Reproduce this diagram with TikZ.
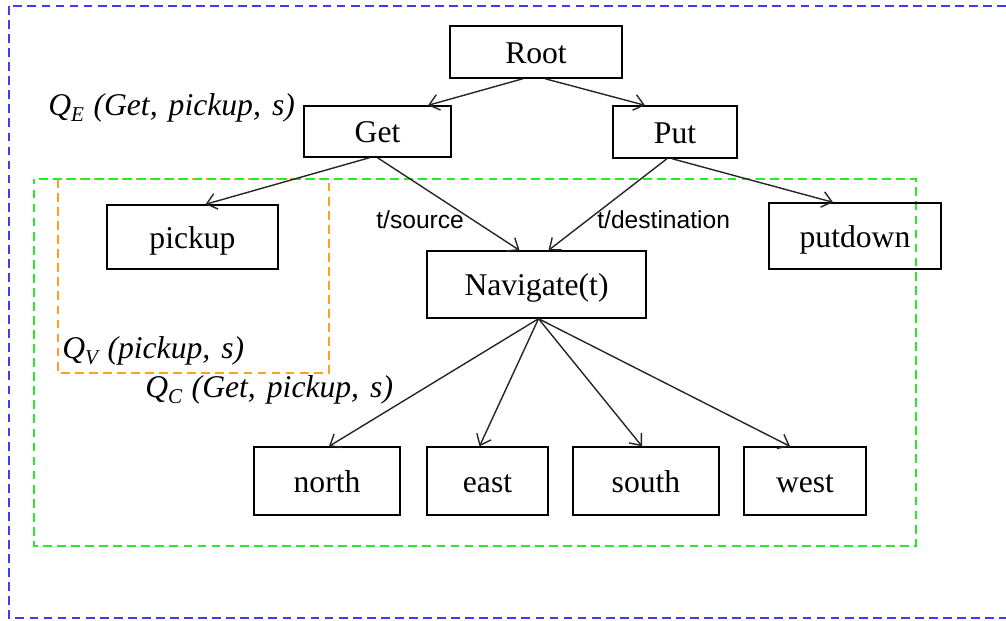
\documentclass[tikz,border=0pt]{standalone}
\usepackage{fontspec}
\setmainfont{Liberation Serif}
\newfontfamily\labelsans{Liberation Sans}
\usetikzlibrary{arrows.meta,calc}
\definecolor{framebluec}{RGB}{60,60,240}
\definecolor{framegreenc}{RGB}{40,235,40}
\definecolor{frameorangec}{RGB}{255,160,30}
% subscript set low, as in the value labels
\newcommand{\lowsub}[1]{\raisebox{-0.45ex}{\fontsize{12}{12}\selectfont #1}}
\begin{document}
\begin{tikzpicture}[x=0.02cm,y=-0.02cm,
  box/.style={draw,line width=0.8pt,inner sep=0pt,text height=14pt,text depth=1.4pt,
    font=\fontsize{18}{20}\selectfont},
  link/.style={line width=0.8pt,draw=black!85,-{Straight Barb[length=5.5pt,width=9pt]}},
  qlabel/.style={anchor=base west,inner sep=0pt,font=\fontsize{18}{20}\selectfont\itshape},
  elabel/.style={anchor=base west,inner sep=0pt,font=\labelsans\fontsize{14}{16}\selectfont},
  frame/.style={line width=1.1pt,dash pattern=on 5pt off 3pt}]
\useasboundingbox (0,0) rectangle (1006,620);

% dashed regions
\draw[frame,framebluec] (9,6) rectangle (1020,618);
\draw[frame,frameorangec,line width=0.9pt] (58,179) rectangle (329,373);
\draw[frame,framegreenc,dash phase=2pt] (34,179) rectangle (916,546);

% task nodes
\node[box,minimum width=3.44cm,minimum height=1.04cm] (root) at (536,52) {Root};
\node[box,minimum width=2.94cm,minimum height=1.02cm] (get) at (377.5,131.5) {Get};
\node[box,minimum width=2.48cm,minimum height=1.04cm] (put) at (675,132) {Put};
\node[box,minimum width=3.42cm,minimum height=1.28cm] (pickup) at (192.5,237) {pickup};
\node[box,minimum width=3.44cm,minimum height=1.32cm] (putdown) at (855,236) {putdown};
\node[box,minimum width=4.38cm,minimum height=1.34cm] (nav) at (536.5,284.5) {Navigate(t)};
\node[box,minimum width=2.92cm,minimum height=1.36cm] (north) at (327,481) {north};
\node[box,minimum width=2.42cm,minimum height=1.36cm] (east) at (487.5,481) {east};
\node[box,minimum width=2.92cm,minimum height=1.36cm] (south) at (646,481) {south};
\node[box,minimum width=2.44cm,minimum height=1.36cm] (west) at (805,481) {west};

% connectors
\draw[link] ($(root.south)+(-13,0)$) -- ($(get.north)+(50.5,0)$);
\draw[link] ($(root.south)+(9,0)$) -- ($(put.north)+(-30,0)$);
\draw[link] ($(get.south)+(-8,0)$) -- ($(pickup.north)+(13,0)$);
\draw[link] ($(get.south)+(0,0)$) -- ($(nav.north)+(-17,0)$);
\draw[link] ($(put.south)+(-8,0)$) -- ($(nav.north)+(12,0)$);
\draw[link] ($(put.south)+(-3,0)$) -- ($(putdown.north)+(-22,0)$);
\draw[link] ($(nav.south)+(2,0)$) -- ($(north.north)+(2,0)$);
\draw[link] ($(nav.south)+(2,0)$) -- ($(east.north)+(-8,0)$);
\draw[link] ($(nav.south)+(2,0)$) -- ($(south.north)+(-4,0)$);
\draw[link] ($(nav.south)+(2,0)$) -- ($(west.north)+(-15,0)$);

% edge labels
\node[elabel] (src) at (376,228) {t/source};
\node[elabel] (dst) at (597,228) {t/destination};

% value labels
\node[qlabel] (qe) at (48,115) {Q\lowsub{E}\hspace{0.3em}(Get,\hspace{0.35em}pickup,\hspace{0.35em}s)};
\node[qlabel] (qv) at (62,358) {Q\lowsub{V}\hspace{0.3em}(pickup,\hspace{0.35em}s)};
\node[qlabel] (qc) at (145,397) {Q\lowsub{C}\hspace{0.3em}(Get,\hspace{0.35em}pickup,\hspace{0.35em}s)};
\end{tikzpicture}
\end{document}
